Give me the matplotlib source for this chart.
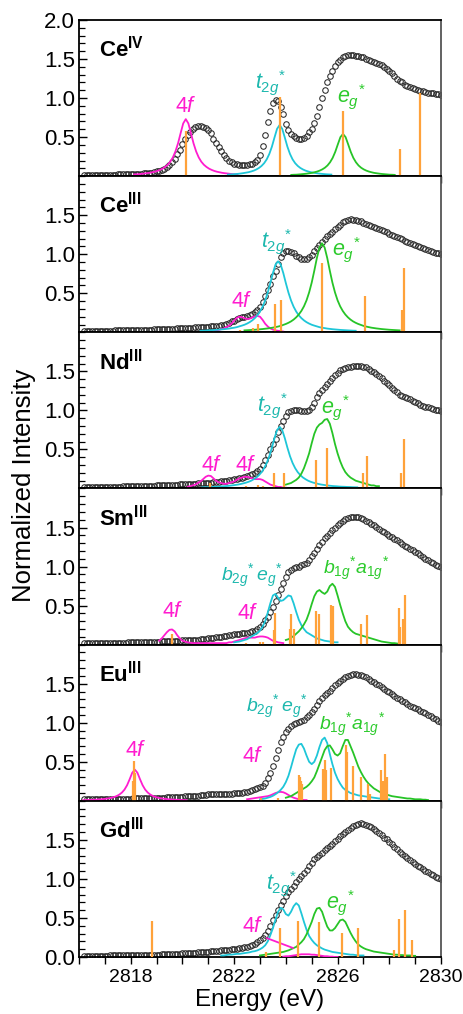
import numpy as np
import matplotlib
matplotlib.use("Agg")
import matplotlib.pyplot as plt
from matplotlib.ticker import MultipleLocator, FixedLocator, FormatStrFormatter

# ---- experimental spectra, sampled every 0.1 eV from 2816.2 to 2830.1 eV ----
energy = np.round(2816.2 + 0.1 * np.arange(140), 2)

ce4_data = [
    0.015, 0.015, 0.016, 0.016, 0.017, 0.017, 0.018, 0.018, 0.019, 0.019,
    0.020, 0.020, 0.021, 0.022, 0.022, 0.023, 0.024, 0.025, 0.026, 0.027,
    0.028, 0.030, 0.032, 0.034, 0.037, 0.040, 0.045, 0.052, 0.060, 0.070,
    0.080, 0.095, 0.115, 0.140, 0.175, 0.220, 0.280, 0.340, 0.410, 0.470,
    0.530, 0.570, 0.600, 0.625, 0.640, 0.645, 0.635, 0.620, 0.590, 0.550,
    0.470, 0.420, 0.370, 0.320, 0.270, 0.230, 0.200, 0.180, 0.160, 0.150,
    0.145, 0.140, 0.140, 0.145, 0.150, 0.160, 0.180, 0.210, 0.270, 0.380,
    0.530, 0.690, 0.830, 0.940, 0.980, 0.960, 0.890, 0.790, 0.670, 0.590,
    0.545, 0.510, 0.485, 0.470, 0.470, 0.490, 0.520, 0.560, 0.610, 0.680,
    0.770, 0.890, 1.000, 1.100, 1.200, 1.280, 1.350, 1.410, 1.460, 1.490,
    1.520, 1.540, 1.550, 1.550, 1.550, 1.545, 1.540, 1.530, 1.520, 1.500,
    1.490, 1.480, 1.465, 1.450, 1.440, 1.420, 1.400, 1.370, 1.350, 1.320,
    1.280, 1.250, 1.220, 1.200, 1.170, 1.155, 1.140, 1.130, 1.115, 1.105,
    1.095, 1.085, 1.075, 1.070, 1.065, 1.060, 1.055, 1.050, 1.045, 1.040,
]
ce3_data = [
    0.018, 0.018, 0.019, 0.019, 0.020, 0.020, 0.021, 0.021, 0.022, 0.022,
    0.023, 0.023, 0.024, 0.025, 0.025, 0.026, 0.027, 0.027, 0.028, 0.029,
    0.030, 0.031, 0.032, 0.033, 0.034, 0.035, 0.036, 0.037, 0.038, 0.039,
    0.040, 0.041, 0.043, 0.044, 0.046, 0.047, 0.049, 0.050, 0.052, 0.054,
    0.056, 0.058, 0.060, 0.062, 0.064, 0.066, 0.068, 0.070, 0.072, 0.075,
    0.078, 0.082, 0.087, 0.093, 0.100, 0.110, 0.125, 0.140, 0.150, 0.165,
    0.180, 0.190, 0.200, 0.210, 0.225, 0.240, 0.260, 0.290, 0.330, 0.390,
    0.460, 0.540, 0.620, 0.720, 0.790, 0.880, 0.960, 1.010, 1.040, 1.045,
    1.030, 1.010, 0.980, 0.960, 0.945, 0.940, 0.945, 0.960, 0.990, 1.040,
    1.080, 1.120, 1.160, 1.200, 1.235, 1.260, 1.290, 1.320, 1.350, 1.380,
    1.410, 1.430, 1.440, 1.445, 1.440, 1.435, 1.430, 1.420, 1.405, 1.390,
    1.380, 1.365, 1.355, 1.340, 1.325, 1.310, 1.295, 1.280, 1.265, 1.250,
    1.235, 1.220, 1.205, 1.190, 1.175, 1.160, 1.145, 1.130, 1.115, 1.100,
    1.090, 1.080, 1.065, 1.055, 1.045, 1.030, 1.020, 1.010, 1.000, 0.990,
]
nd3_data = [
    0.015, 0.016, 0.016, 0.017, 0.017, 0.018, 0.019, 0.019, 0.020, 0.021,
    0.022, 0.022, 0.023, 0.024, 0.025, 0.026, 0.027, 0.028, 0.029, 0.030,
    0.031, 0.032, 0.033, 0.034, 0.035, 0.036, 0.037, 0.038, 0.040, 0.041,
    0.042, 0.044, 0.045, 0.047, 0.048, 0.050, 0.051, 0.053, 0.054, 0.056,
    0.057, 0.059, 0.060, 0.062, 0.064, 0.066, 0.068, 0.070, 0.073, 0.076,
    0.079, 0.083, 0.087, 0.092, 0.097, 0.102, 0.107, 0.112, 0.118, 0.124,
    0.130, 0.137, 0.145, 0.155, 0.170, 0.185, 0.200, 0.225, 0.255, 0.300,
    0.360, 0.430, 0.500, 0.570, 0.640, 0.720, 0.800, 0.870, 0.930, 0.975,
    0.995, 1.010, 1.010, 1.005, 0.995, 0.990, 0.995, 1.010, 1.040, 1.100,
    1.170, 1.220, 1.260, 1.300, 1.340, 1.380, 1.420, 1.455, 1.485, 1.515,
    1.530, 1.545, 1.555, 1.560, 1.565, 1.570, 1.570, 1.565, 1.560, 1.550,
    1.530, 1.510, 1.490, 1.465, 1.440, 1.410, 1.380, 1.350, 1.320, 1.290,
    1.260, 1.230, 1.200, 1.185, 1.170, 1.155, 1.140, 1.125, 1.110, 1.090,
    1.075, 1.060, 1.050, 1.040, 1.030, 1.020, 1.010, 1.000, 0.990, 0.980,
]
sm3_data = [
    0.016, 0.017, 0.017, 0.018, 0.018, 0.019, 0.019, 0.020, 0.020, 0.021,
    0.022, 0.022, 0.023, 0.024, 0.025, 0.026, 0.027, 0.028, 0.029, 0.030,
    0.031, 0.032, 0.033, 0.034, 0.035, 0.036, 0.037, 0.038, 0.039, 0.040,
    0.041, 0.042, 0.044, 0.045, 0.047, 0.048, 0.050, 0.052, 0.054, 0.056,
    0.058, 0.060, 0.062, 0.064, 0.066, 0.069, 0.072, 0.075, 0.079, 0.083,
    0.088, 0.093, 0.098, 0.104, 0.110, 0.116, 0.122, 0.128, 0.133, 0.137,
    0.140, 0.145, 0.150, 0.155, 0.160, 0.170, 0.180, 0.200, 0.225, 0.260,
    0.310, 0.360, 0.420, 0.480, 0.560, 0.630, 0.710, 0.790, 0.870, 0.930,
    0.960, 0.980, 0.990, 1.000, 1.015, 1.030, 1.050, 1.080, 1.130, 1.180,
    1.230, 1.270, 1.310, 1.360, 1.390, 1.430, 1.470, 1.500, 1.530, 1.560,
    1.585, 1.610, 1.625, 1.635, 1.640, 1.640, 1.635, 1.625, 1.610, 1.590,
    1.570, 1.550, 1.530, 1.510, 1.485, 1.460, 1.440, 1.420, 1.395, 1.375,
    1.355, 1.335, 1.310, 1.290, 1.265, 1.245, 1.230, 1.210, 1.190, 1.170,
    1.150, 1.125, 1.100, 1.080, 1.060, 1.040, 1.020, 1.010, 1.000, 0.990,
]
eu3_data = [
    0.018, 0.018, 0.019, 0.019, 0.020, 0.020, 0.021, 0.021, 0.022, 0.022,
    0.023, 0.024, 0.024, 0.025, 0.026, 0.026, 0.027, 0.028, 0.029, 0.030,
    0.031, 0.032, 0.033, 0.034, 0.035, 0.036, 0.037, 0.038, 0.039, 0.040,
    0.041, 0.042, 0.043, 0.045, 0.046, 0.048, 0.050, 0.052, 0.054, 0.056,
    0.058, 0.060, 0.062, 0.065, 0.068, 0.071, 0.075, 0.079, 0.082, 0.085,
    0.087, 0.088, 0.089, 0.090, 0.091, 0.092, 0.093, 0.094, 0.096, 0.098,
    0.100, 0.105, 0.110, 0.117, 0.125, 0.135, 0.148, 0.160, 0.175, 0.190,
    0.230, 0.290, 0.360, 0.450, 0.550, 0.650, 0.750, 0.820, 0.880, 0.920,
    0.960, 0.980, 0.995, 1.010, 1.020, 1.040, 1.070, 1.100, 1.140, 1.180,
    1.230, 1.280, 1.320, 1.350, 1.380, 1.410, 1.450, 1.480, 1.510, 1.540,
    1.565, 1.590, 1.605, 1.615, 1.620, 1.620, 1.615, 1.610, 1.600, 1.580,
    1.560, 1.540, 1.520, 1.500, 1.480, 1.460, 1.435, 1.410, 1.390, 1.365,
    1.340, 1.320, 1.300, 1.280, 1.260, 1.240, 1.220, 1.200, 1.185, 1.170,
    1.150, 1.135, 1.120, 1.100, 1.085, 1.065, 1.045, 1.025, 1.005, 0.990,
]
gd3_data = [
    0.015, 0.015, 0.016, 0.016, 0.017, 0.017, 0.018, 0.018, 0.019, 0.019,
    0.020, 0.020, 0.021, 0.021, 0.022, 0.023, 0.023, 0.024, 0.025, 0.026,
    0.026, 0.027, 0.027, 0.028, 0.029, 0.029, 0.030, 0.031, 0.031, 0.032,
    0.033, 0.034, 0.035, 0.036, 0.037, 0.039, 0.041, 0.043, 0.045, 0.047,
    0.049, 0.051, 0.053, 0.055, 0.058, 0.060, 0.063, 0.066, 0.069, 0.072,
    0.075, 0.078, 0.081, 0.084, 0.087, 0.090, 0.094, 0.098, 0.102, 0.106,
    0.110, 0.116, 0.123, 0.130, 0.140, 0.150, 0.170, 0.190, 0.215, 0.245,
    0.285, 0.335, 0.400, 0.470, 0.535, 0.600, 0.665, 0.720, 0.780, 0.830,
    0.875, 0.910, 0.955, 1.000, 1.040, 1.080, 1.120, 1.170, 1.210, 1.250,
    1.285, 1.310, 1.335, 1.365, 1.390, 1.420, 1.450, 1.480, 1.510, 1.545,
    1.575, 1.605, 1.630, 1.655, 1.675, 1.690, 1.700, 1.710, 1.705, 1.695,
    1.680, 1.660, 1.640, 1.615, 1.590, 1.560, 1.530, 1.505, 1.475, 1.445,
    1.410, 1.380, 1.350, 1.320, 1.295, 1.265, 1.240, 1.215, 1.190, 1.170,
    1.150, 1.125, 1.105, 1.085, 1.065, 1.045, 1.030, 1.010, 0.995, 0.980,
]

# ---- fit components: start energy + values every 0.1 eV ----
ce4_4f_x0 = 2818.13
ce4_4f = [0.022, 0.024, 0.026, 0.030, 0.034, 0.038, 0.043, 0.050, 0.057, 0.067,
          0.080, 0.096, 0.118, 0.146, 0.185, 0.240, 0.317, 0.420, 0.550, 0.675,
          0.730, 0.675, 0.550, 0.420, 0.317, 0.240, 0.185, 0.146, 0.118, 0.096,
          0.080, 0.067, 0.057, 0.050, 0.043, 0.038, 0.034, 0.030, 0.026, 0.024, 0.022]
ce4_t2g_x0 = 2821.76
ce4_t2g = [0.020, 0.022, 0.024, 0.027, 0.030, 0.034, 0.039, 0.045, 0.051, 0.060,
           0.071, 0.086, 0.105, 0.131, 0.166, 0.215, 0.284, 0.377, 0.494, 0.606,
           0.655, 0.606, 0.494, 0.377, 0.284, 0.215, 0.166, 0.131, 0.105, 0.086,
           0.071, 0.060, 0.051, 0.045, 0.039, 0.034, 0.030, 0.027, 0.024, 0.022, 0.020]
ce4_eg_x0 = 2824.21
ce4_eg = [0.016, 0.018, 0.019, 0.022, 0.025, 0.028, 0.032, 0.037, 0.042, 0.050,
          0.059, 0.071, 0.087, 0.108, 0.137, 0.178, 0.234, 0.311, 0.407, 0.500,
          0.540, 0.500, 0.407, 0.311, 0.234, 0.178, 0.137, 0.108, 0.087, 0.071,
          0.059, 0.050, 0.042, 0.037, 0.032, 0.028, 0.025, 0.022, 0.019, 0.018, 0.016]

ce3_4f_x0 = 2821.2
ce3_4f = [0.020, 0.025, 0.030, 0.040, 0.050, 0.065, 0.085, 0.110, 0.150, 0.185,
          0.200, 0.195, 0.180, 0.170, 0.175, 0.190, 0.205, 0.210, 0.200, 0.160,
          0.110, 0.075, 0.050, 0.035, 0.025, 0.020, 0.015, 0.010]
ce3_t2g_x0 = 2820.7
ce3_t2g = [0.020, 0.021, 0.023, 0.025, 0.027, 0.029, 0.031, 0.034, 0.037, 0.040,
           0.044, 0.048, 0.054, 0.059, 0.066, 0.076, 0.086, 0.097, 0.112, 0.130,
           0.153, 0.182, 0.218, 0.266, 0.328, 0.408, 0.509, 0.630, 0.760, 0.867,
           0.910, 0.867, 0.760, 0.630, 0.509, 0.408, 0.328, 0.266, 0.218, 0.182,
           0.153, 0.130, 0.112, 0.097, 0.086, 0.076, 0.066, 0.059, 0.054, 0.048,
           0.044, 0.040, 0.037, 0.034, 0.031, 0.029, 0.027, 0.025, 0.023, 0.021, 0.020]
ce3_eg_x0 = 2822.4
ce3_eg = [0.025, 0.027, 0.029, 0.031, 0.033, 0.036, 0.039, 0.042, 0.046, 0.050,
          0.055, 0.060, 0.067, 0.074, 0.083, 0.095, 0.107, 0.122, 0.140, 0.163,
          0.192, 0.228, 0.274, 0.333, 0.410, 0.511, 0.637, 0.789, 0.952, 1.086,
          1.140, 1.086, 0.952, 0.789, 0.637, 0.511, 0.410, 0.333, 0.274, 0.228,
          0.192, 0.163, 0.140, 0.122, 0.107, 0.095, 0.083, 0.074, 0.067, 0.060,
          0.055, 0.050, 0.046, 0.042, 0.039, 0.036, 0.033, 0.031, 0.029, 0.027, 0.025]

nd3_4f_x0 = 2820.2
nd3_4f = [0.020, 0.030, 0.040, 0.050, 0.070, 0.090, 0.120, 0.150, 0.165, 0.160,
          0.130, 0.100, 0.080, 0.070, 0.060, 0.060, 0.070, 0.080, 0.090, 0.110,
          0.130, 0.140, 0.150, 0.150, 0.140, 0.130, 0.120, 0.120, 0.120, 0.110,
          0.090, 0.070, 0.050, 0.040, 0.030, 0.020, 0.020, 0.010, 0.010]
nd3_t2g_x0 = 2820.76
nd3_t2g = [0.015, 0.016, 0.017, 0.019, 0.020, 0.022, 0.023, 0.025, 0.028, 0.030,
           0.033, 0.037, 0.041, 0.046, 0.051, 0.058, 0.066, 0.075, 0.086, 0.100,
           0.119, 0.141, 0.171, 0.209, 0.260, 0.327, 0.414, 0.523, 0.644, 0.747,
           0.790, 0.747, 0.644, 0.523, 0.414, 0.327, 0.260, 0.209, 0.171, 0.141,
           0.119, 0.100, 0.086, 0.075, 0.066, 0.058, 0.051, 0.046, 0.041, 0.037,
           0.033, 0.030, 0.028, 0.025, 0.023, 0.022, 0.020, 0.019, 0.017, 0.016, 0.015]
nd3_eg_x0 = 2824.0
nd3_eg = [0.050, 0.060, 0.070, 0.090, 0.110, 0.140, 0.190, 0.260, 0.350, 0.450,
          0.580, 0.700, 0.780, 0.820, 0.840, 0.880, 0.890, 0.830, 0.710, 0.570,
          0.450, 0.350, 0.270, 0.210, 0.170, 0.140, 0.120, 0.100, 0.090, 0.080,
          0.070, 0.060, 0.050, 0.040, 0.040, 0.030, 0.030]

sm3_4f_x0 = 2819.1
sm3_4f = [0.050, 0.080, 0.120, 0.160, 0.190, 0.195, 0.170, 0.120, 0.080, 0.050,
          0.040, 0.030, 0.025, 0.020, 0.020, 0.020, 0.020, 0.020, 0.020, 0.020,
          0.020, 0.020, 0.020, 0.020, 0.020, 0.020, 0.020, 0.030, 0.030, 0.040,
          0.050, 0.060, 0.070, 0.080, 0.090, 0.090, 0.090, 0.090, 0.100, 0.105,
          0.105, 0.100, 0.090, 0.070, 0.050, 0.040, 0.030, 0.025, 0.020]
sm3_b2g_x0 = 2822.0
sm3_b2g = [0.030, 0.035, 0.040, 0.050, 0.060, 0.070, 0.090, 0.110, 0.130, 0.150,
           0.180, 0.230, 0.300, 0.410, 0.530, 0.630, 0.650, 0.600, 0.560, 0.570,
           0.600, 0.630, 0.620, 0.530, 0.420, 0.320, 0.250, 0.200, 0.160, 0.140,
           0.120, 0.100, 0.080, 0.070, 0.060, 0.050, 0.045, 0.040, 0.035, 0.030, 0.030]
sm3_b1g_x0 = 2824.0
sm3_b1g = [0.060, 0.070, 0.090, 0.110, 0.140, 0.170, 0.210, 0.260, 0.320, 0.410,
           0.520, 0.620, 0.680, 0.700, 0.670, 0.650, 0.680, 0.750, 0.780, 0.740,
           0.630, 0.510, 0.400, 0.300, 0.230, 0.190, 0.160, 0.140, 0.130, 0.120,
           0.110, 0.100, 0.090, 0.080, 0.070, 0.060, 0.050, 0.040, 0.035, 0.030,
           0.025, 0.020, 0.020, 0.015, 0.010]

eu3_4f_x0 = 2816.16
eu3_4f = [0.009, 0.010, 0.011, 0.012, 0.014, 0.015, 0.018, 0.020, 0.024, 0.028,
          0.033, 0.040, 0.049, 0.062, 0.080, 0.106, 0.144, 0.200, 0.277, 0.360,
          0.400, 0.360, 0.277, 0.200, 0.144, 0.106, 0.080, 0.062, 0.049, 0.040,
          0.033, 0.028, 0.024, 0.020, 0.018, 0.015, 0.014, 0.012, 0.011, 0.010, 0.009]
eu3_4f2_x0 = 2822.5
eu3_4f2 = [0.020, 0.025, 0.030, 0.035, 0.040, 0.045, 0.050, 0.055, 0.060, 0.070,
           0.085, 0.100, 0.110, 0.115, 0.110, 0.095, 0.075, 0.055, 0.040, 0.030,
           0.020, 0.015, 0.010, 0.010]
eu3_b2g_x0 = 2823.0
eu3_b2g = [0.020, 0.025, 0.030, 0.040, 0.050, 0.065, 0.085, 0.110, 0.140, 0.180,
           0.240, 0.320, 0.430, 0.550, 0.660, 0.720, 0.730, 0.670, 0.580, 0.500,
           0.470, 0.500, 0.580, 0.690, 0.780, 0.810, 0.740, 0.600, 0.470, 0.360,
           0.280, 0.220, 0.170, 0.140, 0.120, 0.100, 0.090, 0.080, 0.070, 0.065,
           0.060, 0.055, 0.050, 0.045, 0.040, 0.035, 0.030, 0.030, 0.025, 0.020, 0.020]
eu3_b1g_x0 = 2824.0
eu3_b1g = [0.040, 0.050, 0.060, 0.080, 0.100, 0.120, 0.140, 0.160, 0.180, 0.210,
           0.250, 0.300, 0.380, 0.470, 0.560, 0.650, 0.700, 0.710, 0.660, 0.600,
           0.580, 0.610, 0.700, 0.780, 0.780, 0.700, 0.620, 0.530, 0.440, 0.370,
           0.310, 0.260, 0.220, 0.190, 0.160, 0.140, 0.120, 0.100, 0.090, 0.080,
           0.070, 0.060, 0.055, 0.050, 0.045, 0.040, 0.035, 0.030, 0.030, 0.025,
           0.020, 0.020, 0.020, 0.015, 0.015, 0.010]

gd3_4f_x0 = 2823.9
gd3_4f = [0.005, 0.010, 0.010, 0.015, 0.020, 0.025, 0.030, 0.035, 0.035, 0.035,
          0.035, 0.030, 0.030, 0.025, 0.020, 0.015, 0.010, 0.010, 0.005, 0.005, 0.0, 0.0]
gd3_t2g_x0 = 2821.5
gd3_t2g = [0.020, 0.020, 0.025, 0.030, 0.030, 0.035, 0.040, 0.040, 0.045, 0.050,
           0.055, 0.060, 0.070, 0.075, 0.085, 0.100, 0.120, 0.150, 0.200, 0.280,
           0.370, 0.480, 0.580, 0.630, 0.610, 0.550, 0.530, 0.580, 0.650, 0.690,
           0.660, 0.560, 0.450, 0.350, 0.270, 0.220, 0.180, 0.150, 0.130, 0.110,
           0.095, 0.085, 0.075, 0.065, 0.060, 0.055, 0.050, 0.045, 0.040, 0.035,
           0.030, 0.030, 0.025, 0.020, 0.020, 0.020]
gd3_eg_x0 = 2823.0
gd3_eg = [0.020, 0.025, 0.030, 0.035, 0.040, 0.045, 0.050, 0.055, 0.060, 0.065,
          0.075, 0.085, 0.100, 0.115, 0.130, 0.160, 0.190, 0.230, 0.290, 0.370,
          0.450, 0.550, 0.620, 0.630, 0.580, 0.480, 0.390, 0.340, 0.340, 0.370,
          0.420, 0.470, 0.480, 0.450, 0.380, 0.310, 0.250, 0.200, 0.160, 0.135,
          0.115, 0.100, 0.090, 0.080, 0.070, 0.065, 0.060, 0.055, 0.050, 0.045,
          0.040, 0.035, 0.030, 0.030, 0.025, 0.025, 0.020, 0.020, 0.020, 0.015, 0.015]

# ---- calculated transitions (stick spectra) ----
ce4_stick_e = [2820.13, 2823.76, 2826.21, 2828.42, 2829.19]
ce4_stick_h = [0.58, 1.01, 0.83, 0.35, 1.06]
ce3_stick_e = [2822.24, 2822.73, 2822.92, 2823.57, 2823.80, 2825.40, 2827.06, 2828.48, 2828.55]
ce3_stick_h = [0.03, 0.06, 0.11, 0.36, 0.41, 0.885, 0.47, 0.29, 0.83]
nd3_stick_e = [2821.08, 2822.47, 2822.92, 2823.12, 2823.53, 2823.92, 2825.18, 2825.60,
               2826.98, 2827.15, 2828.46, 2828.56]
nd3_stick_h = [0.065, 0.03, 0.05, 0.03, 0.20, 0.20, 0.37, 0.52, 0.20, 0.42, 0.20, 0.63]
sm3_stick_e = [2819.58, 2822.47, 2822.99, 2823.12, 2823.53, 2823.57, 2824.17, 2824.21,
               2824.30, 2825.15, 2825.27, 2825.76, 2825.82, 2826.91, 2827.15, 2828.39,
               2828.43, 2828.52, 2828.59]
sm3_stick_h = [0.14, 0.02, 0.04, 0.03, 0.19, 0.40, 0.20, 0.39, 0.20, 0.43, 0.39, 0.51,
               0.49, 0.27, 0.375, 0.47, 0.23, 0.33, 0.63]
eu3_stick_e = [2818.10, 2818.14, 2818.18, 2823.05, 2823.70, 2824.49, 2824.53, 2824.57,
               2824.61, 2825.43, 2825.46, 2825.50, 2825.54, 2825.76, 2826.33, 2826.37,
               2826.59, 2826.91, 2827.17, 2827.27, 2827.69, 2827.75, 2827.82, 2827.86,
               2827.91]
eu3_stick_h = [0.26, 0.515, 0.36, 0.03, 0.03, 0.33, 0.30, 0.26, 0.21, 0.41, 0.17, 0.52,
               0.39, 0.42, 0.71, 0.62, 0.45, 0.30, 0.21, 0.086, 0.395, 0.26, 0.60, 0.24,
               0.30]
gd3_stick_e = [2818.81, 2823.25, 2823.76, 2824.47, 2825.28, 2826.18, 2826.78, 2828.20,
               2828.39, 2828.61, 2828.88]
gd3_stick_h = [0.455, 0.07, 0.375, 0.46, 0.45, 0.31, 0.375, 0.085, 0.49, 0.60, 0.22]

# ---- style ----
MAGENTA = "#ff1ccf"
CYAN = "#1ec6d8"
GREEN = "#27c427"
ORANGE = "#ffa23a"
TEAL_TXT = "#1db8ae"
GREEN_TXT = "#2dcb2d"

plt.rcParams["font.family"] = ["Liberation Sans", "DejaVu Sans"]
plt.rcParams["mathtext.fontset"] = "custom"
plt.rcParams["mathtext.rm"] = "Liberation Sans"
plt.rcParams["mathtext.it"] = "Liberation Sans:italic"
plt.rcParams["mathtext.bf"] = "Liberation Sans:bold"

F4 = r"4$f$"
T2G = r"$t_{2g}{}^{*}$"
EG = r"$e_{g}{}^{*}$"
B2G = r"$b_{2g}{}^{*}\,e_{g}{}^{*}$"
B1G = r"$b_{1g}{}^{*}a_{1g}{}^{*}$"
LABEL_SIZE = {F4: 15.5, T2G: 15.5, EG: 15.5, B2G: 14, B1G: 14}

panels = [
    dict(name=r"Ce$^{\mathbf{IV}}$", data=ce4_data,
         curves=[(MAGENTA, ce4_4f_x0, ce4_4f), (CYAN, ce4_t2g_x0, ce4_t2g),
                 (GREEN, ce4_eg_x0, ce4_eg)],
         sticks=(ce4_stick_e, ce4_stick_h),
         labels=[(F4, 2819.72, 0.82, MAGENTA), (T2G, 2822.82, 1.13, TEAL_TXT),
                 (EG, 2825.98, 0.95, GREEN_TXT)]),
    dict(name=r"Ce$^{\mathbf{III}}$", data=ce3_data,
         curves=[(MAGENTA, ce3_4f_x0, ce3_4f), (CYAN, ce3_t2g_x0, ce3_t2g),
                 (GREEN, ce3_eg_x0, ce3_eg)],
         sticks=(ce3_stick_e, ce3_stick_h),
         labels=[(F4, 2821.88, 0.32, MAGENTA), (T2G, 2823.02, 1.09, TEAL_TXT),
                 (EG, 2825.80, 0.98, GREEN_TXT)]),
    dict(name=r"Nd$^{\mathbf{III}}$", data=nd3_data,
         curves=[(MAGENTA, nd3_4f_x0, nd3_4f), (CYAN, nd3_t2g_x0, nd3_t2g),
                 (GREEN, nd3_eg_x0, nd3_eg)],
         sticks=(nd3_stick_e, nd3_stick_h),
         labels=[(F4, 2820.70, 0.22, MAGENTA), (F4, 2822.05, 0.22, MAGENTA),
                 (T2G, 2822.88, 0.99, TEAL_TXT), (EG, 2825.35, 0.96, GREEN_TXT)]),
    dict(name=r"Sm$^{\mathbf{III}}$", data=sm3_data,
         curves=[(MAGENTA, sm3_4f_x0, sm3_4f), (CYAN, sm3_b2g_x0, sm3_b2g),
                 (GREEN, sm3_b1g_x0, sm3_b1g)],
         sticks=(sm3_stick_e, sm3_stick_h),
         labels=[(F4, 2819.22, 0.35, MAGENTA), (F4, 2822.11, 0.33, MAGENTA),
                 (B2G, 2821.51, 0.82, TEAL_TXT), (B1G, 2825.43, 0.91, GREEN_TXT)]),
    dict(name=r"Eu$^{\mathbf{III}}$", data=eu3_data,
         curves=[(MAGENTA, eu3_4f_x0, eu3_4f), (MAGENTA, eu3_4f2_x0, eu3_4f2),
                 (CYAN, eu3_b2g_x0, eu3_b2g), (GREEN, eu3_b1g_x0, eu3_b1g)],
         sticks=(eu3_stick_e, eu3_stick_h),
         labels=[(F4, 2817.77, 0.57, MAGENTA), (F4, 2822.31, 0.50, MAGENTA),
                 (B2G, 2822.47, 1.14, TEAL_TXT), (B1G, 2825.28, 0.90, GREEN_TXT)]),
    dict(name=r"Gd$^{\mathbf{III}}$", data=gd3_data,
         curves=[(MAGENTA, gd3_4f_x0, gd3_4f), (CYAN, gd3_t2g_x0, gd3_t2g),
                 (GREEN, gd3_eg_x0, gd3_eg)],
         sticks=(gd3_stick_e, gd3_stick_h),
         labels=[(T2G, 2823.22, 0.87, TEAL_TXT), (EG, 2825.54, 0.62, GREEN_TXT)]),
]

fig = plt.figure(figsize=(4.63, 10.14), dpi=100)
axes = fig.subplots(len(panels), 1, sharex=True)
fig.subplots_adjust(left=0.1706, right=0.9525, top=0.9803, bottom=0.0562, hspace=0)

for i, (ax, p) in enumerate(zip(axes, panels)):
    ax.plot(energy, p["data"], "o", mfc="none", mec="#2a2a2a", ms=4.0, mew=0.75,
            zorder=2)
    for color, x0, vals in p["curves"]:
        x = x0 + 0.1 * np.arange(len(vals))
        ax.plot(x, vals, "-", color=color, lw=1.3, zorder=3)
    se, sh = p["sticks"]
    ax.vlines(se, 0, sh, color=ORANGE, lw=1.6, zorder=4)

    ax.text(2816.78, 1.53, p["name"], fontsize=16, fontweight="bold",
            ha="left", va="baseline")
    for txt, lx, ly, col in p["labels"]:
        ax.text(lx, ly, txt, color=col, fontsize=LABEL_SIZE[txt], ha="left",
                va="baseline", zorder=5)

    ax.set_xlim(2816, 2830)
    ax.set_ylim(0, 2.0)
    if i == 0:
        yt = [0.5, 1.0, 1.5, 2.0]
    elif i == len(panels) - 1:
        yt = [0.0, 0.5, 1.0, 1.5]
    else:
        yt = [0.5, 1.0, 1.5]
    ax.yaxis.set_major_locator(FixedLocator(yt))
    ax.yaxis.set_minor_locator(MultipleLocator(0.1))
    ax.yaxis.set_major_formatter(FormatStrFormatter("%.1f"))
    ax.xaxis.set_major_locator(FixedLocator([2818, 2822, 2826, 2830]))
    ax.xaxis.set_minor_locator(MultipleLocator(1))
    ax.tick_params(axis="y", which="major", direction="in", length=6, width=1.0,
                   labelsize=16, pad=3)
    ax.tick_params(axis="y", which="minor", direction="in", length=4, width=0.9)
    ax.tick_params(axis="x", which="both", direction="out", length=5, width=1.0,
                   labelsize=14, top=False)
    for side in ["left", "bottom", "top"]:
        ax.spines[side].set_linewidth(1.3)
    ax.spines["right"].set_linewidth(1.3)
    ax.spines["right"].set_color("#555555")

# Gd 4f label with its leader line
axes[-1].annotate(F4, xy=(2824.28, 0.115), xytext=(2822.31, 0.32), color=MAGENTA,
                  fontsize=15.5, ha="left", va="baseline",
                  arrowprops=dict(arrowstyle="-", color=MAGENTA, lw=1.3,
                                  shrinkA=0, shrinkB=0,
                                  relpos=(1.0, 0.0)))

fig.text(0.052, 0.521, "Normalized Intensity", rotation=90, ha="center", va="center",
         fontsize=18.5)
fig.text(0.5616, 0.0138, "Energy (eV)", ha="center", va="center", fontsize=17.5)

fig.savefig("out.png", dpi=100)
